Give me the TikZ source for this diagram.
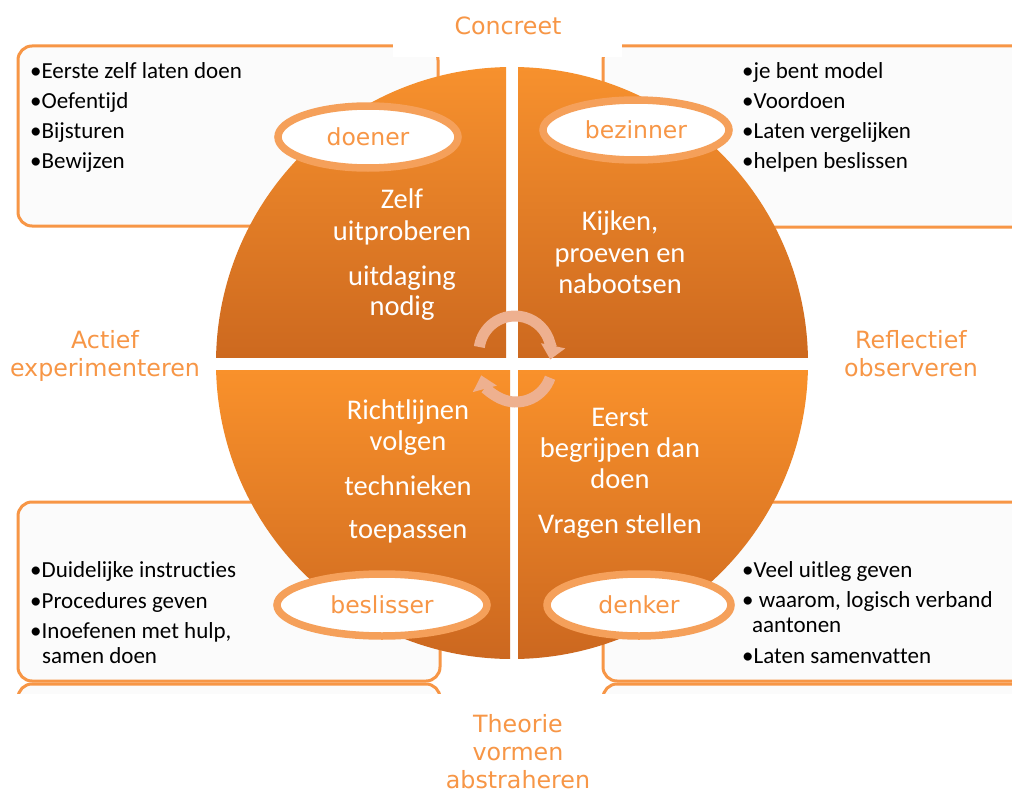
\documentclass[tikz,border=0pt]{standalone}
\usepackage{fontspec}
\setmainfont[Ligatures=NoCommon]{Carlito}
\newfontfamily\verd{DejaVu Sans}
\usetikzlibrary{arrows.meta,shapes.geometric}
\definecolor{orlab}{HTML}{F79646}
\definecolor{boxline}{HTML}{F79646}
\definecolor{ellline}{HTML}{F5A05A}
\definecolor{qtop}{HTML}{F8922E}
\definecolor{qbot}{HTML}{CD691F}
\definecolor{qtopb}{HTML}{F9912B}
\definecolor{qbotb}{HTML}{CA661F}
\definecolor{arrowc}{HTML}{EEB08F}
\definecolor{boxfill}{HTML}{FBFBFB}
\begin{document}
\begin{tikzpicture}[x=1pt,y=-1pt,
  infobox/.style={draw=boxline, line width=3pt, rounded corners=14pt, fill=boxfill},
  bul/.style={anchor=base west, inner sep=0pt, font=\fontsize{23}{27}\selectfont, text=black},
  quadtext/.style={anchor=base, inner sep=0pt, font=\fontsize{28.5}{32}\selectfont, text=white},
  axislabel/.style={anchor=base, inner sep=0pt, font=\verd\fontsize{23.75}{28}\selectfont, text=orlab},
  roleell/.style={ellipse, draw=ellline, line width=7.5pt, fill=white, inner sep=0pt,
    font=\verd\fontsize{23.5}{27}\selectfont, text=orlab},
  cyclearrow/.style={draw=arrowc, line width=11pt, -{Triangle[width=24pt,length=14pt]}}
]
\clip (0,0) rectangle (1012,792);
\fill[white] (0,0) rectangle (1012,792);
% info boxes
\draw[infobox] (18,46) rectangle (438,226);
\draw[infobox] (603,46) rectangle (1040,227);
\draw[infobox] (18,502) rectangle (440,681);
\draw[infobox] (603,502) rectangle (1040,681);
\draw[infobox] (18,684) rectangle (440,780);
\draw[infobox] (603,684) rectangle (1040,780);
% label backgrounds
\fill[white] (393,0) rectangle (622,57);
\fill[white] (0,694) rectangle (1012,792);
% quadrants
\begin{scope}
  \clip (512,363) circle[radius=296];
  \shade[top color=qtop, bottom color=qbot] (200,60) rectangle (506,357);
  \shade[top color=qtop, bottom color=qbot] (518,60) rectangle (830,357);
  \shade[top color=qtopb, bottom color=qbotb] (200,370) rectangle (510,670);
  \shade[top color=qtopb, bottom color=qbotb] (518,370) rectangle (830,670);
\end{scope}
% cycle arrows
\draw[cyclearrow] (515,352) ++(-172:36) arc[start angle=-172, end angle=12, radius=36];
\draw[cyclearrow] (516,366) ++(19:36) arc[start angle=19, end angle=165, radius=36];
% role ellipses
\node[roleell, minimum width=180pt, minimum height=62pt] (doener) at (368,137) {doener};
\node[roleell, minimum width=186pt, minimum height=60pt] (bezinner) at (636,130) {bezinner};
\node[roleell, minimum width=210pt, minimum height=62pt] (beslisser) at (382,605) {beslisser};
\node[roleell, minimum width=184pt, minimum height=62pt] (denker) at (639,605) {denker};
% quadrant texts
\node[quadtext] (q1a) at (402,208) {Zelf};
\node[quadtext] (q1b) at (402,240) {uitproberen};
\node[quadtext] (q1c) at (402,285) {uitdaging};
\node[quadtext] (q1d) at (402,315) {nodig};
\node[quadtext] (q2a) at (620,230) {Kijken,};
\node[quadtext] (q2b) at (620,262) {proeven en};
\node[quadtext] (q2c) at (620,293) {nabootsen};
\node[quadtext] (q3a) at (408,419) {Richtlijnen};
\node[quadtext] (q3b) at (408,450) {volgen};
\node[quadtext] (q3c) at (408,495) {technieken};
\node[quadtext] (q3d) at (408,538) {toepassen};
\node[quadtext] (q4a) at (620,426) {Eerst};
\node[quadtext] (q4b) at (620,457) {begrijpen dan};
\node[quadtext] (q4c) at (620,488) {doen};
\node[quadtext] (q4d) at (620,533) {Vragen stellen};
% box texts
\node[bul] (tl1) at (30,78) {•Eerste zelf laten doen};
\node[bul] (tl2) at (30,108) {•Oefentijd};
\node[bul] (tl3) at (30,138) {•Bijsturen};
\node[bul] (tl4) at (30,168) {•Bewijzen};
\node[bul] (tr1) at (742,78) {•je bent model};
\node[bul] (tr2) at (742,108) {•Voordoen};
\node[bul] (tr3) at (742,138) {•Laten vergelijken};
\node[bul] (tr4) at (742,168) {•helpen beslissen};
\node[bul] (bl1) at (30,577) {•Duidelijke instructies};
\node[bul] (bl2) at (30,608) {•Procedures geven};
\node[bul] (bl3) at (30,638) {•Inoefenen met hulp,};
\node[bul] (bl4) at (42,663) {samen doen};
\node[bul] (br1) at (742,577) {•Veel uitleg geven};
\node[bul] (br2) at (742,607) {• waarom, logisch verband};
\node[bul] (br3) at (752,632) {aantonen};
\node[bul] (br4) at (742,663) {•Laten samenvatten};
% axis labels
\node[axislabel] (concreet) at (508,35) {Concreet};
\node[axislabel] (actief1) at (105,348) {Actief};
\node[axislabel] (actief2) at (105,376) {experimenteren};
\node[axislabel] (refl1) at (911,348) {Reflectief};
\node[axislabel] (refl2) at (911,376) {observeren};
\node[axislabel] (theo1) at (518,732) {Theorie};
\node[axislabel] (theo2) at (518,760) {vormen};
\node[axislabel] (theo3) at (518,788) {abstraheren};
\end{tikzpicture}
\end{document}
